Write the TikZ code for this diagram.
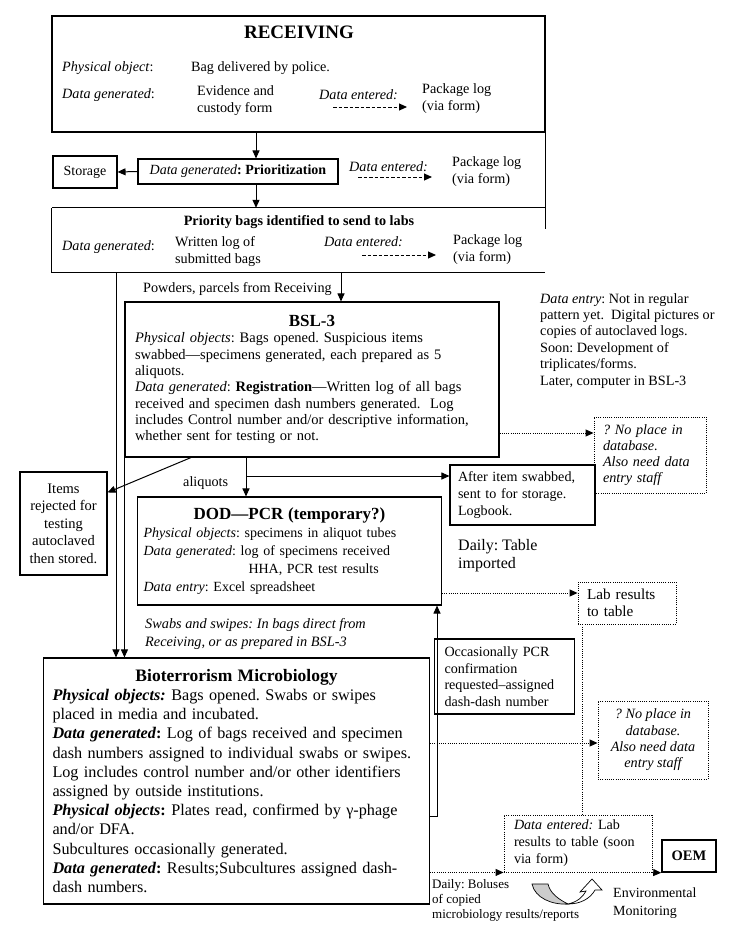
\documentclass[tikz,border=0pt]{standalone}
\usepackage{fontspec}
\setmainfont{Liberation Serif}
\usetikzlibrary{arrows.meta,positioning}
\frenchspacing

\newcommand{\fsz}[2]{\fontsize{#1}{#2}\selectfont}

\tikzset{
  frameline/.style={line width=1.1pt},
  box/.style={draw, line width=1.1pt, inner sep=0pt, align=left},
  dotbox/.style={draw, line width=0.9pt, dash pattern=on 1pt off 1.2pt, inner sep=0pt, align=left},
  arr/.style={line width=1pt, -{Triangle[length=8pt,width=7pt]}},
  dotarr/.style={arr, line width=0.9pt, dash pattern=on 1pt off 1.2pt},
  dasharr/.style={arr, dash pattern=on 3.5pt off 2pt},
  txt/.style={inner sep=0pt, anchor=west, align=left, font=\fsz{14.2}{16.8}},
}

\begin{document}
\begin{tikzpicture}[x=1pt,y=-1pt]
\useasboundingbox (0,0) rectangle (738,937);

% x positions of the vertical connectors
\coordinate (xa) at (256,0);
\coordinate (xb) at (341,0);
\coordinate (xc) at (246,0);
\coordinate (xd) at (116,0);
\coordinate (xe) at (191,0);
\coordinate (xf) at (582,0);
\coordinate (xg) at (437,0);

% RECEIVING
\node[box, minimum width=493pt, minimum height=116pt] (recv) at (298.5,74) {};
\node[font=\fsz{19}{22}\bfseries, inner sep=0pt] (recvt) at (299,32) {RECEIVING};
\node[txt] (po1) at (62,68) {\textit{Physical object}:};
\node[txt] (bag) at (191,68) {Bag delivered by police.};
\node[txt] (dg1) at (62,95) {\textit{Data generated}:};
\node[txt] (evid) at (197,100.5) {Evidence and\\custody form};
\node[txt] (de1) at (319,95) {\textit{Data entered:}};
\node[txt] (pk1) at (422,98.5) {Package log\\(via form)};
\coordinate (d1s) at (333,107);
\coordinate (d1e) at (407,107);
\draw[dasharr] (d1s) -- (d1e);

% band with prioritization
\node[minimum width=493pt, minimum height=64pt, inner sep=0pt] (labs) at (298.5,240) {};
\draw[frameline] (labs.north west) -- (labs.north east);
\draw[frameline] (labs.north west) -- (labs.south west) -- (labs.south east);
\draw[frameline] (recv.south east) -- ([yshift=-96pt]recv.south east);
\node[box, minimum width=64pt, minimum height=32pt, align=center, font=\fsz{14}{16.5}] (stor) at (85,172) {Storage};
\node[box, minimum width=200pt, minimum height=25pt, align=center, font=\fsz{14}{16.5}] (prio) at (238,171.5) {\textit{Data generated}\textbf{: Prioritization}};
\node[txt] (de2) at (349,167) {\textit{Data entered:}};
\node[txt] (pk2) at (452,171.5) {Package log\\(via form)};
\coordinate (d2s) at (358,177);
\coordinate (d2e) at (432,177);
\draw[dasharr] (d2s) -- (d2e);
\draw[arr] (recv.south -| xa) -- (prio.north -| xa);
\draw[arr] (prio.south -| xa) -- (labs.north -| xa);
\draw[arr] (prio.west) -- (stor.east);

% priority bags
\node[font=\fsz{14.2}{16}\bfseries, inner sep=0pt] (labst) at (299,222) {Priority bags identified to send to labs};
\node[txt] (dg3) at (62,247) {\textit{Data generated}:};
\node[txt] (wlog) at (175,251.5) {Written log of\\submitted bags};
\node[txt] (de3) at (324,242) {\textit{Data entered:}};
\node[txt] (pk3) at (453,249.5) {Package log\\(via form)};
\coordinate (d3s) at (362,255);
\coordinate (d3e) at (436,255);
\draw[dasharr] (d3s) -- (d3e);

\node[txt] (powd) at (143,289) {Powders, parcels from Receiving};

% BSL-3
\node[box, minimum width=370pt, minimum height=155pt, inner xsep=10pt, text width=354pt, font=\fsz{14.5}{16.3}] (bsl) at (312,379.5)
  {{\centering\fsz{17}{21}\bfseries BSL-3\par}
   \textit{Physical objects}: Bags opened. Suspicious items\\
   swabbed—specimens generated, each prepared as 5\\
   aliquots.\\
   \textit{Data generated}: \textbf{Registration}—Written log of all bags\\
   received and specimen dash numbers generated.\ \ Log\\
   includes Control number and/or descriptive information,\\
   whether sent for testing or not.};
\draw[arr] (labs.south -| xb) -- (bsl.north -| xb);

\node[txt, anchor=north west, font=\fsz{14.2}{16.4}] (dentry) at (540,293)
  {\textit{Data entry}: Not in regular\\
   pattern yet.\ \ Digital pictures or\\
   copies of autoclaved logs.\\
   Soon: Development of\\
   triplicates/forms.\\
   Later, computer in BSL-3};

\node[dotbox, minimum width=106pt, minimum height=76pt, inner xsep=9pt, text width=94pt, font=\fsz{14.2}{16.2}\itshape] (np1) at (650,455)
  {? No place in\\ database.\\ Also need data\\ entry staff};
\coordinate (ya) at (0,433);
\draw[dotarr] (bsl.east |- ya) -- (np1.west |- ya);

% items rejected
\node[box, minimum width=87pt, minimum height=103pt, align=center, font=\fsz{14.5}{17.5}] (rej) at (63.5,523.5)
  {Items\\ rejected for\\ testing\\ autoclaved\\ then stored.};
\draw[arr] (bsl.south -| xe) -- ([yshift=-21pt]rej.north east);

% after item swabbed
\node[box, minimum width=141pt, minimum height=60pt, inner xsep=8pt, text width=129pt, font=\fsz{14.1}{17}] (aft) at (522.5,495)
  {After item swabbed,\\ sent to for storage.\\ Logbook.};
\coordinate (yb) at (0,476);
\draw[arr] (xc |- yb) -- (aft.west |- yb);

% DOD-PCR
\node[box, minimum width=301pt, minimum height=108pt, inner xsep=6pt, text width=292pt, font=\fsz{14}{18}] (dod) at (289.5,551)
  {{\centering\fsz{17}{20}\bfseries DOD—PCR (temporary?)\par}
   \textit{Physical objects}: specimens in aliquot tubes\\
   \textit{Data generated}: log of specimens received\\
   \hspace*{105pt}HHA, PCR test results\\
   \textit{Data entry}: Excel spreadsheet};
\draw[arr] (bsl.south -| xc) -- (dod.north -| xc);
\node[txt] (aliq) at (183,483) {aliquots};

\node[txt, font=\fsz{16}{17.5}] (dtab) at (458,555.5) {Daily: Table\\ imported};

% lab results to table
\node[dotbox, minimum width=92pt, minimum height=42pt, inner xsep=9pt, text width=80pt, font=\fsz{15.2}{17}] (lab) at (627,603)
  {Lab results\\ to table};
\coordinate (yc) at (0,593);
\draw[dotarr] (dod.east |- yc) -- (lab.west |- yc);

\node[txt, font=\fsz{14.3}{18}\itshape] (swab) at (145,634)
  {Swabs and swipes: In bags direct from\\ Receiving, or as prepared in BSL-3};

% Bioterrorism Microbiology
\node[box, minimum width=383pt, minimum height=246pt, inner xsep=9pt, text width=368pt, font=\fsz{16.2}{19.2}] (bio) at (236.5,781)
  {{\centering\fsz{17.5}{19.5}\bfseries Bioterrorism Microbiology\par}
   \textbf{\textit{Physical objects:}} Bags opened. Swabs or swipes\\
   placed in media and incubated.\\
   \textbf{\textit{Data generated}:} Log of bags received and specimen\\
   dash numbers assigned to individual swabs or swipes.\\
   Log includes control number and/or other identifiers\\
   assigned by outside institutions.\\
   \textbf{\textit{Physical objects}:} Plates read, confirmed by γ-phage\\
   and/or DFA.\\
   Subcultures occasionally generated.\\
   \textbf{\textit{Data generated}:} Results;Subcultures assigned dash-\\
   dash numbers.};
\draw[arr] (labs.south -| xd) -- (bio.north -| xd);
\draw[arr] (bsl.south west) -- (bio.north -| bsl.west);

% occasionally PCR
\node[box, minimum width=135pt, minimum height=75pt, inner xsep=10pt, text width=120pt, font=\fsz{14.1}{16.5}] (occ) at (504.5,676.5)
  {Occasionally PCR\\ confirmation\\ requested–assigned\\ dash-dash number};
\coordinate (yd) at (0,816);
\draw[arr] (bio.east |- yd) -- (xg |- yd) -- (dod.south -| xg);

% no place (second)
\node[dotbox, minimum width=110pt, minimum height=78pt, align=center, font=\fsz{14.2}{16.3}\itshape] (np2) at (653,740)
  {? No place in\\ database.\\ Also need data\\ entry staff};
\coordinate (ye) at (0,743);
\draw[dotarr] (bio.east |- ye) -- (np2.west |- ye);

% data entered, OEM
\node[dotbox, minimum width=140pt, minimum height=57pt, inner xsep=10pt, text width=128pt, font=\fsz{14.1}{17}] (dent) at (578,843.5)
  {\textit{Data entered:} Lab\\ results to table (soon\\ via form)};
\node[box, line width=1.5pt, minimum width=54pt, minimum height=32pt, align=center, font=\fsz{14.5}{17}\bfseries] (oem) at (689,856) {OEM};
\draw[line width=0.9pt, dash pattern=on 1pt off 1.2pt] (lab.south -| xf) -- (dent.north -| xf);
\draw[dotarr] (bio.east |- dent.south) -- (dent.south west);
\draw[dotarr] (dent.south east) -- (oem.south west);

\node[txt, font=\fsz{13}{15}] (bolus) at (432,900)
  {Daily: Boluses\\ of copied\\ microbiology results/reports};
\node[txt, font=\fsz{14}{18}] (envm) at (613,903) {Environmental\\ Monitoring};

% curved arrow
\filldraw[fill=gray!40, line width=0.7pt] (532,884) .. controls (535,898) and (552,905) .. (568,904)
  .. controls (558,899) and (550,893) .. (548,884) -- cycle;
\filldraw[fill=white, line width=0.7pt] (568,904) .. controls (577,902) and (583,897) .. (586,891)
  -- (580,892) -- (592,879) -- (602,890) -- (595,890)
  .. controls (590,899) and (580,904) .. (568,904) -- cycle;
\end{tikzpicture}
\end{document}
